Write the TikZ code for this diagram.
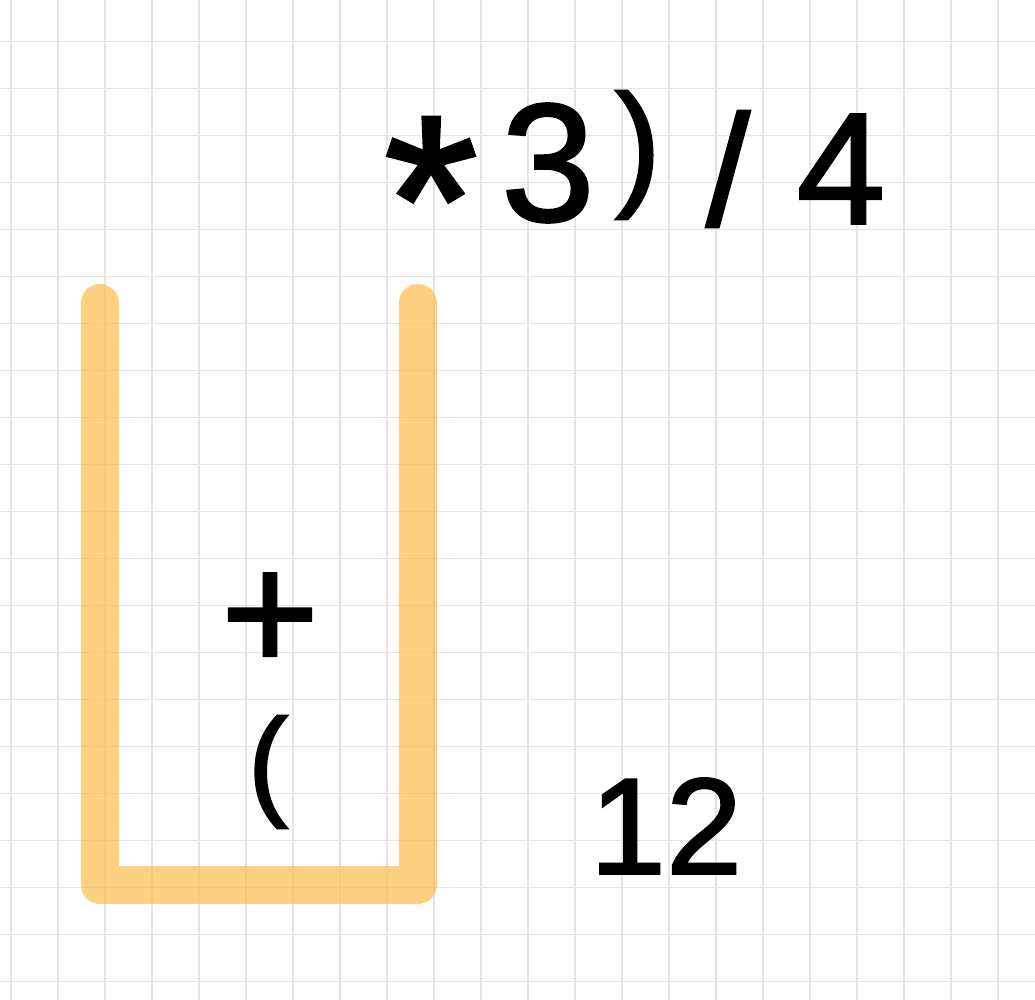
\documentclass[tikz,border=0pt]{standalone}
\usepackage{fontspec}
\setmainfont[FakeBold=1.6]{Liberation Sans}
\definecolor{gridgray}{RGB}{228,228,230}
\definecolor{stackorange}{RGB}{255,190,80}
\tikzset{
  gridline/.style={draw=gridgray, line width=1.3pt},
  stackline/.style={draw=stackorange, draw opacity=0.72, line width=38pt, line cap=round, line join=round},
  glyph/.style={inner sep=0pt, outer sep=0pt, text=black, anchor=center},
}
\newcommand{\fsz}[1]{\fontsize{#1}{#1}\selectfont}
\begin{document}
\begin{tikzpicture}[x=1pt,y=-1pt]
\useasboundingbox (0,0) rectangle (1035,1000);
\fill[white] (0,0) rectangle (1035,1000);
% grid
\foreach \i in {0,...,21} \draw[gridline] (11+47*\i,0) -- (11+47*\i,1000);
\foreach \j in {0,...,20} \draw[gridline] (0,41.7+47*\j) -- (1035,41.7+47*\j);
% stack container
\coordinate (tl) at (99.5,303);
\coordinate (bl) at (99.5,885);
\coordinate (br) at (417.5,885);
\coordinate (tr) at (417.5,303);
\draw[stackline] (tl) -- (bl) -- (br) -- (tr);
% remaining input
\node[glyph, font=\fsz{240}] (star) at (431,200) {*};
\node[glyph, font=\fsz{168}] (three) at (548,163) {3};
\node[glyph, font=\fsz{138}] (rpar) at (638,155) {)};
\node[glyph, font=\fsz{158}] (slash) at (728,169) {/};
\node[glyph, font=\fsz{159}] (four) at (841,169) {4};
% stack contents
\node[glyph, font=\fsz{168}] (plus) at (270,622) {+};
\node[glyph, font=\fsz{121}] (lpar) at (268,772) {(};
% output
\node[glyph, font=\fsz{137}] (twelve) at (666,826) {12};
\end{tikzpicture}
\end{document}
